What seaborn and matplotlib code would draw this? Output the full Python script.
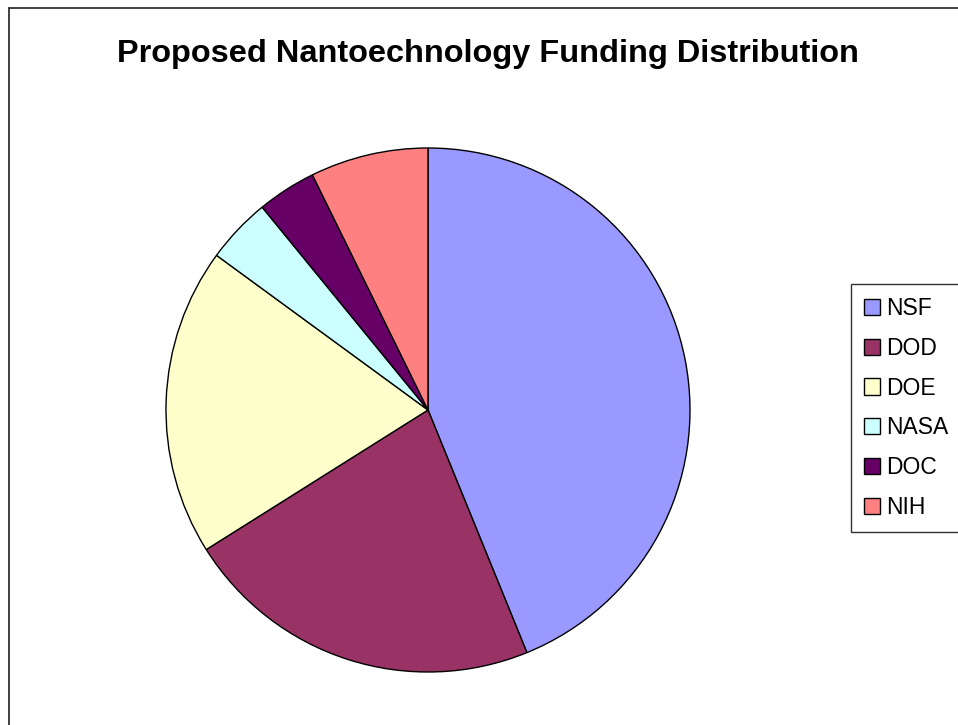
import matplotlib
matplotlib.use("Agg")
import matplotlib.pyplot as plt
import seaborn as sns
from matplotlib.lines import Line2D

agencies = ["NSF", "DOD", "DOE", "NASA", "DOC", "NIH"]
funding = [217, 110, 94, 20, 18, 36]
colors = ["#9999FF", "#993366", "#FFFFCC", "#CCFFFF", "#660066", "#FF8080"]
title = "Proposed Nantoechnology Funding Distribution"

sns.set_theme(style="white")
plt.rcParams["font.family"] = ["Liberation Sans", "DejaVu Sans"]
plt.rcParams["text.color"] = "black"

W, H = 958, 725
fig = plt.figure(figsize=(W / 100, H / 100), dpi=100)
cx, cy, r = 428, 410, 262
ax = fig.add_axes([(cx - r) / W, (H - cy - r) / H, 2 * r / W, 2 * r / H])
wedges, _ = ax.pie(funding, colors=colors, startangle=90, counterclock=False,
                   wedgeprops=dict(edgecolor="black", linewidth=1.0))
ax.set_xlim(-1.0, 1.0)
ax.set_ylim(-1.0, 1.0)
ax.set_aspect("equal")
ax.axis("off")

fig.text(488 / W, 1 - 54 / H, title, ha="center", va="center",
         fontsize=23.4, fontweight="bold", color="black")

leg = fig.legend(wedges, agencies, loc="upper left",
                 bbox_to_anchor=(851 / W, 1 - 284 / H), frameon=True,
                 fancybox=False, fontsize=16.5, handlelength=0.7,
                 handleheight=0.7, handletextpad=0.3, labelspacing=0.74,
                 borderpad=0.55, borderaxespad=0.0)
leg.get_frame().set_edgecolor("black")
leg.get_frame().set_linewidth(1.0)
for t in leg.get_texts():
    t.set_color("black")
for p in leg.get_patches():
    p.set_linewidth(1.0)

# outer chart frame (partially cropped)
fig.add_artist(Line2D([8.5 / W, 8.5 / W], [0, 1 - 7.5 / H], transform=fig.transFigure,
                      color="#333333", linewidth=1.3))
fig.add_artist(Line2D([8.5 / W, 1], [1 - 7.5 / H, 1 - 7.5 / H], transform=fig.transFigure,
                      color="#333333", linewidth=1.3))

fig.savefig("out.png", dpi=100, facecolor="white")
